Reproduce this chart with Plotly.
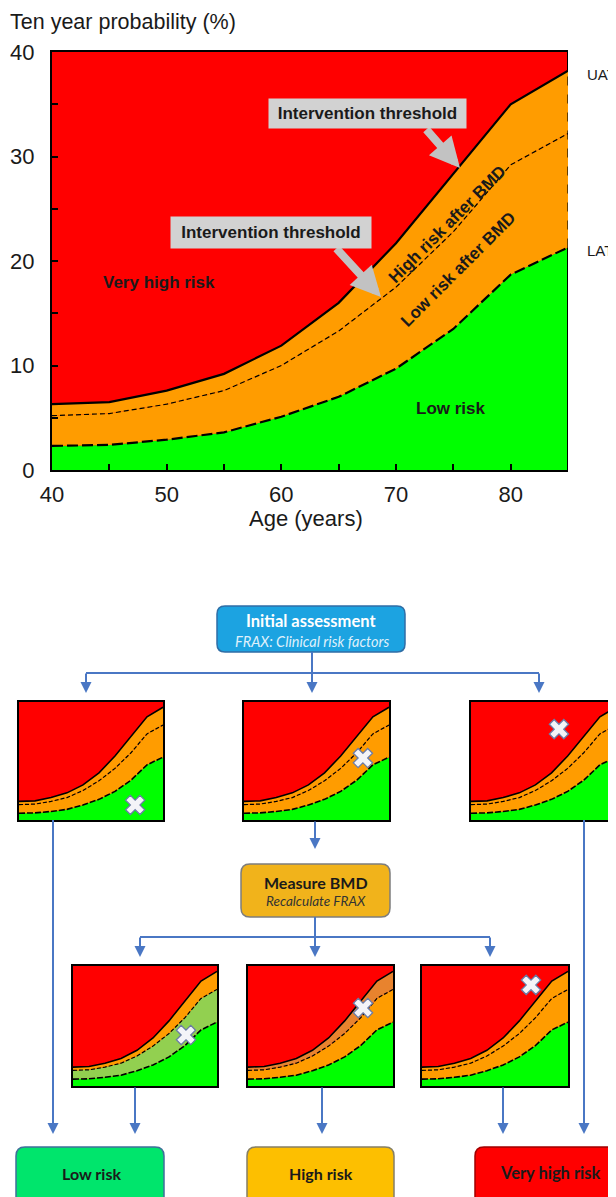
import plotly.graph_objects as go

# ---------------- data ----------------
ages = [40, 45, 50, 55, 60, 65, 70, 75, 80, 85]
uat = [6.3, 6.5, 7.6, 9.2, 11.9, 16.0, 21.7, 28.4, 35.0, 38.2]
mid_threshold = [5.2, 5.4, 6.3, 7.6, 10.0, 13.3, 17.5, 22.8, 29.2, 32.2]
lat = [2.3, 2.4, 2.9, 3.6, 5.1, 7.0, 9.7, 13.5, 18.7, 21.3]
x_tick_vals = [40, 50, 60, 70, 80]
x_minor_vals = [45, 55, 65, 75]
y_tick_vals = [0, 10, 20, 30, 40]
y_minor_vals = [5, 15, 25, 35]
x_range = [40, 85]
y_range = [0, 40]
patient_age = [76.3, 76.9, 67.3, 75.3, 75.7, 73.6]
patient_prob = [5.1, 21.0, 30.8, 17.0, 26.0, 33.7]

# ---------------- geometry helpers ----------------
OFF = 8  # page body margin
W, H = 616, 1197


def X(p):
    return (p - OFF) / W


def Y(p):
    return 1 - (p - OFF) / H


RED = '#ff0000'
ORANGE = '#ff9c00'
GREEN = '#00ff00'
LIGHTGREEN = '#92d050'
DARKORANGE = '#e8832e'
BLUE = '#4a77c4'
MAINFONT = 'Arial, Liberation Sans, sans-serif'
FLOWFONT = 'Lato, Open Sans, sans-serif'

panels = [
    ("", (52, 568, 52, 470), ORANGE, ORANGE),
    ("2", (19, 163, 702, 820), ORANGE, ORANGE),
    ("3", (244, 389, 702, 820), ORANGE, ORANGE),
    ("4", (471, 616, 702, 820), ORANGE, ORANGE),
    ("5", (73, 217, 966, 1086), LIGHTGREEN, ORANGE),
    ("6", (248, 393, 966, 1086), ORANGE, DARKORANGE),
    ("7", (422, 568, 966, 1086), ORANGE, ORANGE),
]

fig = go.Figure()
layout = {}
shapes = []

for i, (sid, box, low_c, up_c) in enumerate(panels):
    xa, ya = 'x' + sid, 'y' + sid
    main = (i == 0)
    com = dict(x=ages, xaxis=xa, yaxis=ya, mode='lines', hoverinfo='skip', showlegend=False)
    fig.add_trace(go.Scatter(y=lat, fill='tozeroy', fillcolor=GREEN, line=dict(width=0), **com))
    fig.add_trace(go.Scatter(y=mid_threshold, fill='tonexty', fillcolor=low_c, line=dict(width=0), **com))
    fig.add_trace(go.Scatter(y=uat, fill='tonexty', fillcolor=up_c, line=dict(width=0), **com))
    lw = 2.2 if main else 1.6
    fig.add_trace(go.Scatter(y=uat, line=dict(color='black', width=lw), **com))
    fig.add_trace(go.Scatter(y=mid_threshold, line=dict(color='black', width=1.2,
                                                          dash='5px,3px' if main else '4px,2px'), **com))
    fig.add_trace(go.Scatter(y=lat, line=dict(color='black', width=lw,
                                              dash='11px,4px' if main else '6px,2px'), **com))
    if not main:
        k = i - 1
        fig.add_trace(go.Scatter(x=[patient_age[k]], y=[patient_prob[k]], xaxis=xa, yaxis=ya,
                                 mode='markers', hoverinfo='skip', showlegend=False,
                                 marker=dict(symbol='x', size=17, color='#f4f4f8',
                                             line=dict(color='#6b7ba6', width=1.3))))
    x0, x1, y0, y1 = box
    if main:
        layout['xaxis'] = dict(domain=[X(x0), X(x1)], range=x_range, anchor='y', automargin=False,
                               showline=True, mirror=True, linecolor='black', linewidth=2,
                               ticks='inside', ticklen=6, tickwidth=1.5, tickcolor='black',
                               tickmode='array', tickvals=x_tick_vals, ticklabelstandoff=4,
                               minor=dict(tickmode='array', tickvals=x_minor_vals, ticks='inside',
                                          ticklen=6, tickwidth=1.5, tickcolor='black'),
                               tickfont=dict(family=MAINFONT, size=22, color='#1a1a1a'),
                               showgrid=False, zeroline=False, fixedrange=True)
        layout['yaxis'] = dict(domain=[Y(y1), Y(y0)], range=y_range, anchor='x', automargin=False,
                               showline=True, mirror=False, linecolor='black', linewidth=2,
                               ticks='inside', ticklen=6, tickwidth=1.5, tickcolor='black',
                               tickmode='array', tickvals=y_tick_vals, ticklabelstandoff=11,
                               minor=dict(tickmode='array', tickvals=y_minor_vals, ticks='inside',
                                          ticklen=6, tickwidth=1.5, tickcolor='black'),
                               tickfont=dict(family=MAINFONT, size=22, color='#1a1a1a'),
                               showgrid=False, zeroline=False, fixedrange=True)
        # right frame: solid in red / green zones, dashed across the orange band
        xr = x_range[1]
        for ya0, ya1, dsh, wdt in ((uat[-1], y_range[1], 'solid', 2),
                                   (lat[-1], uat[-1], 'dash', 1.2),
                                   (y_range[0], lat[-1], 'solid', 2)):
            shapes.append(dict(type='line', xref='x', yref='y', x0=xr, x1=xr, y0=ya0, y1=ya1,
                               line=dict(color='black', width=wdt, dash=dsh)))
    else:
        layout['xaxis' + sid] = dict(domain=[X(x0), min(1, X(x1))], range=x_range, anchor='y' + sid,
                                     automargin=False,
                                     showline=True, mirror=True, linecolor='black', linewidth=1.5,
                                     showticklabels=False, ticks='', showgrid=False, zeroline=False,
                                     fixedrange=True)
        layout['yaxis' + sid] = dict(domain=[Y(y1), Y(y0)], range=y_range, anchor='x' + sid,
                                     automargin=False,
                                     showline=True, mirror=True, linecolor='black', linewidth=1.5,
                                     showticklabels=False, ticks='', showgrid=False, zeroline=False,
                                     fixedrange=True)

annotations = []


def text(x, y, t, size, color='#1a1a1a', family=MAINFONT, angle=0, xanchor='center', **kw):
    annotations.append(dict(x=X(x), y=Y(y), xref='paper', yref='paper', text=t, showarrow=False,
                            xanchor=xanchor, yanchor='middle', textangle=angle,
                            font=dict(size=size, color=color, family=family), **kw))


def arrow(tail, tip, color=BLUE, width=2, head=2, size=1.1):
    annotations.append(dict(x=X(tip[0]), y=Y(tip[1]), xref='paper', yref='paper', text='',
                            showarrow=True, ax=tail[0] - tip[0], ay=tail[1] - tip[1],
                            axref='pixel', ayref='pixel', arrowhead=head, arrowsize=size,
                            arrowwidth=width, arrowcolor=color, standoff=0))


def line(p0, p1, color=BLUE, width=2):
    shapes.append(dict(type='line', xref='paper', yref='paper', x0=X(p0[0]), y0=Y(p0[1]),
                       x1=X(p1[0]), y1=Y(p1[1]), line=dict(color=color, width=width)))


def rrect(x0, y0, x1, y1, r, fill, border, bw=1.5):
    pts = (f"M {X(x0 + r)},{Y(y0)} L {X(x1 - r)},{Y(y0)} Q {X(x1)},{Y(y0)} {X(x1)},{Y(y0 + r)} "
           f"L {X(x1)},{Y(y1 - r)} Q {X(x1)},{Y(y1)} {X(x1 - r)},{Y(y1)} "
           f"L {X(x0 + r)},{Y(y1)} Q {X(x0)},{Y(y1)} {X(x0)},{Y(y1 - r)} "
           f"L {X(x0)},{Y(y0 + r)} Q {X(x0)},{Y(y0)} {X(x0 + r)},{Y(y0)} Z")
    shapes.append(dict(type='path', xref='paper', yref='paper', path=pts, fillcolor=fill,
                       line=dict(color=border, width=bw), layer='above'))


# ---- main chart texts ----
text(8, 22, 'Ten year probability (%)', 21.5, xanchor='left')
text(306, 519, 'Age (years)', 22)
text(585, 75, 'UAT', 15, xanchor='left')
text(585, 250, 'LAT', 15, xanchor='left')
text(159, 283, '<b>Very high risk</b>', 17)
text(451, 408, '<b>Low risk</b>', 17)
text(447, 224, '<b>High risk after BMD</b>', 17, angle=-45)
text(458, 269, '<b>Low risk after BMD</b>', 17, angle=-45)
arrow((425, 128), (460, 168), color='#c2c2c2', width=8, head=2, size=0.75)
arrow((335, 247), (381, 297), color='#c2c2c2', width=8, head=2, size=0.75)
text(367, 113.5, '<b>Intervention threshold</b>', 17, bgcolor='#d2d2d2', width=195, height=27)
text(271, 232.5, '<b>Intervention threshold</b>', 17, bgcolor='#d2d2d2', width=198, height=29)

# ---- flowchart ----
rrect(217, 606, 405, 652, 8, '#1ca3e1', '#2f6ea6')
text(311, 621, '<b>Initial assessment</b>', 16.5, color='white', family=FLOWFONT)
text(312, 641, '<i>FRAX: Clinical risk factors</i>', 14.5, color='#dff0fb', family=FLOWFONT)
line((312, 652), (312, 673))
line((86, 673), (539, 673))
for xx in (86, 312, 539):
    arrow((xx, 672), (xx, 693))

line((53, 820), (53, 1115))
line((584, 820), (584, 1115))
arrow((53, 1110), (53, 1134))
arrow((584, 1110), (584, 1134))
arrow((315, 820), (315, 849))

rrect(241, 864, 390, 917, 9, '#f1b31b', '#7d7d7d')
text(315.5, 882, '<b>Measure BMD</b>', 16, color='#1a1a1a', family=FLOWFONT)
text(315.5, 901, '<i>Recalculate FRAX</i>', 13.5, color='#333333', family=FLOWFONT)
line((315, 917), (315, 937))
line((140, 937), (490, 937))
for xx in (140, 315, 490):
    arrow((xx, 936), (xx, 957))

for xx in (135, 322, 503):
    arrow((xx, 1086), (xx, 1134))

rrect(16, 1147, 164, 1210, 9, '#00e56c', '#3f6f9a')
text(91, 1173, '<b>Low risk</b>', 16, color='#1a1a1a', family=FLOWFONT)
rrect(247, 1147, 394, 1210, 9, '#fdbf00', '#857f66')
text(321, 1173, '<b>High risk</b>', 16, color='#1a1a1a', family=FLOWFONT)
rrect(475, 1147, 630, 1210, 9, '#ff0000', '#a00000')
text(550, 1173, '<b>Very high risk</b>', 16.5, color='#1a1a1a', family=FLOWFONT)

fig.update_layout(width=W, height=H, autosize=False,
                  margin=dict(l=0, r=0, t=0, b=0, pad=0, autoexpand=False),
                  template='none',
                  paper_bgcolor='white', plot_bgcolor=RED, showlegend=False,
                  annotations=annotations, shapes=shapes, **layout)

fig.write_html("out.html")
